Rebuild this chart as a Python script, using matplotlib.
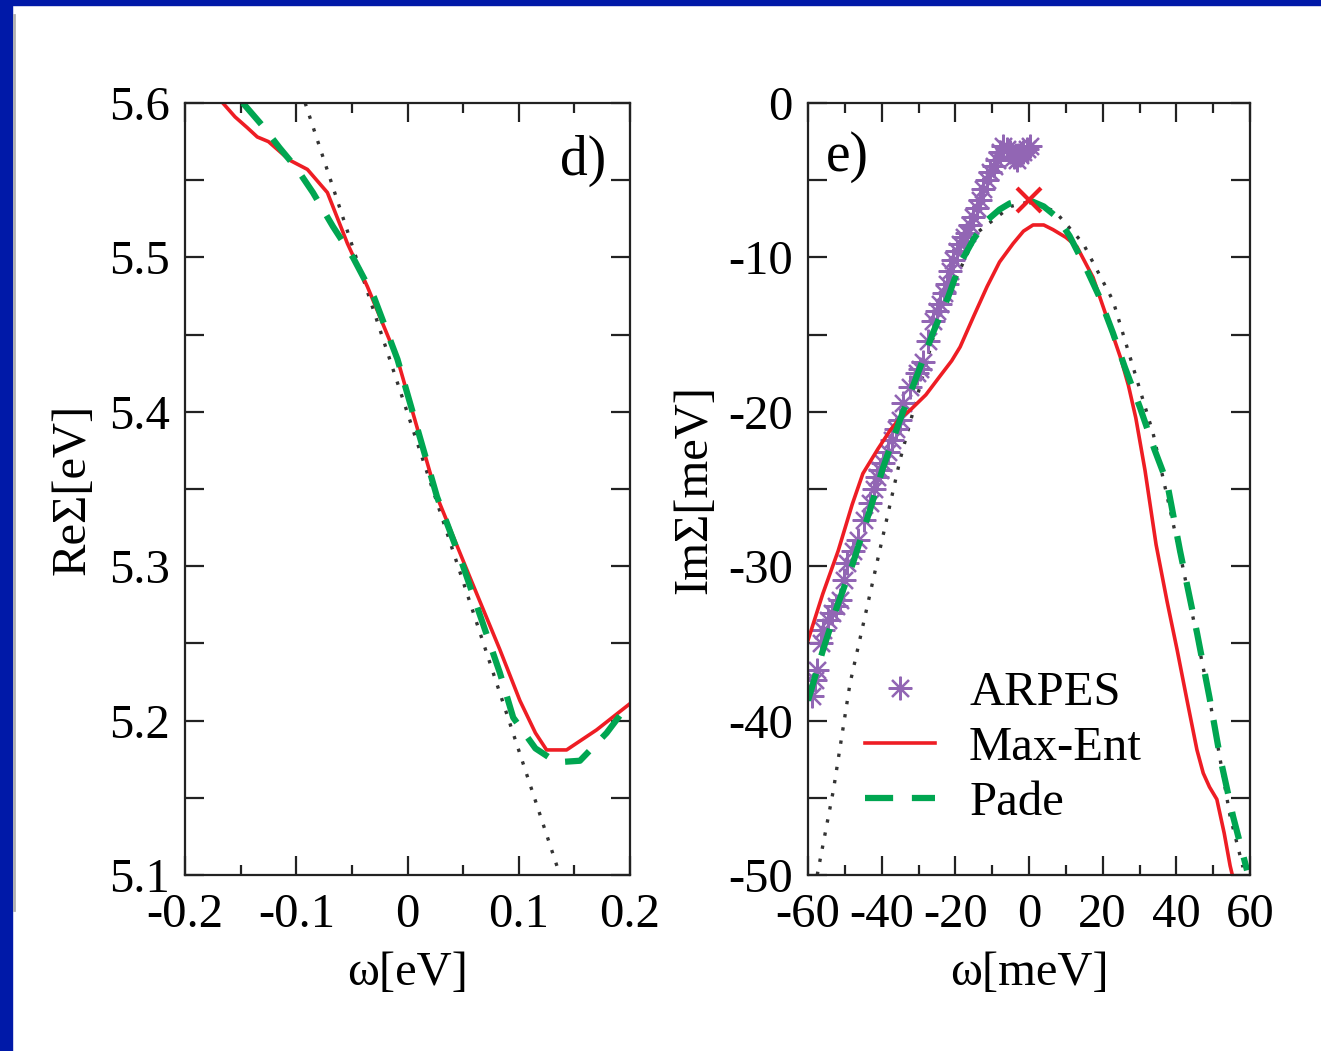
import matplotlib
matplotlib.use("Agg")
import matplotlib.pyplot as plt
from matplotlib.patches import Rectangle
from matplotlib.lines import Line2D
from matplotlib.ticker import MultipleLocator

plt.rcParams["font.family"] = ["Liberation Serif", "DejaVu Serif"]
plt.rcParams["axes.unicode_minus"] = False

# ── Data: panel d) real part ───────────────────
re_w_maxent = [-0.166, -0.155, -0.144, -0.135, -0.125, -0.106, -0.090, -0.072, -0.054,
               -0.036, -0.009, 0.0265, 0.056, 0.083, 0.101, 0.115, 0.125, 0.143, 0.170, 0.200]
re_maxent = [5.600, 5.591, 5.584, 5.578, 5.575, 5.563, 5.557, 5.542, 5.509,
             5.481, 5.434, 5.345, 5.293, 5.246, 5.213, 5.192, 5.181, 5.181, 5.194, 5.211]

re_w_pade = [-0.148, -0.130, -0.115, -0.100, -0.085, -0.067, -0.049, -0.030, -0.009,
             0.0265, 0.050, 0.083, 0.095, 0.115, 0.134, 0.155, 0.179, 0.200]
re_pade = [5.600, 5.585, 5.571, 5.558, 5.542, 5.520, 5.500, 5.474, 5.434,
           5.345, 5.300, 5.231, 5.202, 5.182, 5.173, 5.174, 5.192, 5.212]

re_w_lin = [-0.092, 0.0225, 0.137]
re_lin = [5.600, 5.350, 5.100]

# ── Data: panel e) imaginary part ──────────────
im_w_maxent = [-60, -56, -51.8, -48, -45.1, -41, -37.7, -35, -32.3, -28, -24.2, -21, -18.7,
               -15, -11.4, -8, -4.3, -1.5, 1.1, 4, 6.5, 10, 13, 17.4, 22, 25, 27, 29, 31.5,
               34.5, 37.5, 40.2, 43, 45.6, 47.3, 49, 51, 53, 54.6, 55.2]
im_maxent = [-34.8, -31.8, -29.0, -26.0, -24.0, -22.4, -21.2, -20.4, -19.9, -18.9, -17.7,
             -16.7, -15.8, -13.8, -11.9, -10.3, -9.1, -8.3, -7.9, -7.9, -8.2, -8.7, -9.3,
             -11.3, -14.5, -16.6, -18.3, -20.4, -23.8, -28.6, -32.3, -35.4, -38.8, -41.9,
             -43.4, -44.3, -45.1, -47.3, -49.4, -50.0]

im_w_pade = [-60, -55.9, -52.1, -47.8, -43.5, -39.6, -35, -30, -26.1, -22, -18.7, -15,
             -11.4, -8, -5.2, -2, 1.1, 4, 7.6, 11, 15.7, 19, 22.8, 26, 30.1, 34, 37.5,
             41, 45.6, 49, 51.9, 55.4, 59.2]
im_pade = [-38.7, -35.4, -32.6, -29.8, -26.6, -23.6, -20.5, -17.4, -14.9, -12.6, -10.4,
           -8.8, -7.6, -6.9, -6.5, -6.3, -6.4, -6.7, -7.4, -8.6, -10.8, -12.5, -14.9,
           -17.1, -19.7, -22.4, -24.6, -29.0, -34.3, -38.5, -42.4, -46.2, -49.7]

im_w_fl = [-57.5, -53.1, -48.6, -41.3, -35, -24.2, -14.1, -5, 0, 7, 14.7, 22.8, 33.7,
           41.8, 49.1, 54.6, 58.1]
im_fl = [-50.0, -44.5, -37.6, -29.8, -23.1, -13.6, -8.4, -6.7, -6.4, -7.0, -9.1, -12.8,
         -21.4, -30.1, -38.7, -46.2, -49.5]

arpes_w = [-58.8, -58.2, -57.5, -56.6, -55.9, -54.6, -53.5, -52.4, -51.3, -50.3, -49.4,
           -47.9, -46.4, -44.8, -43.2, -42.2, -41.3, -40.4, -39.6, -38.4, -37.2, -36.0,
           -35.0, -34.2, -32.4, -30.4, -29.6, -28.8, -27.4, -26.1, -25.1, -24.2, -23.2,
           -22.3, -21.4, -20.6, -19.6, -18.7, -17.7, -16.8, -16.0, -15.2, -14.2, -13.3,
           -12.5, -11.5, -10.6, -9.6, -8.7, -7.9, -7.1, -6.1, -5.2, -4.2, -3.3, -2.4,
           -1.6, -0.6, 0.3]
arpes_im = [-38.4, -37.4, -36.7, -35.0, -34.1, -33.5, -33.0, -32.6, -32.2, -30.9, -29.8,
            -29.0, -28.3, -27.0, -25.9, -25.0, -24.2, -23.8, -23.3, -22.6, -21.8, -21.1,
            -20.5, -19.4, -18.4, -17.5, -17.2, -16.8, -15.4, -14.1, -13.5, -13.0, -12.3,
            -11.7, -10.9, -10.2, -9.6, -9.1, -8.7, -8.4, -7.9, -7.4, -6.8, -6.3, -5.6,
            -5.0, -4.5, -4.1, -3.7, -3.2, -2.8, -3.0, -3.2, -3.5, -3.7, -3.4, -3.2, -3.0,
            -2.8]

x_zero = [0.0]
im_zero = [-6.3]

re_xticks = [-0.2, -0.1, 0.0, 0.1, 0.2]
re_xlabels = ["-0.2", "-0.1", "0", "0.1", "0.2"]
re_yticks = [5.1, 5.2, 5.3, 5.4, 5.5, 5.6]
re_ylabels = ["5.1", "5.2", "5.3", "5.4", "5.5", "5.6"]
im_xticks = [-60, -40, -20, 0, 20, 40, 60]
im_xlabels = ["-60", "-40", "-20", "0", "20", "40", "60"]
im_yticks = [-50, -40, -30, -20, -10, 0]
im_ylabels = ["-50", "-40", "-30", "-20", "-10", "0"]

RED = "#ee1d24"
GREEN = "#00a651"
PURPLE = "#9266b4"
DOT = "#333333"
FS = 35

# ── Figure ─────────────────────────────────────
fig = plt.figure(figsize=(13.21, 10.51), dpi=100)
fig.patch.set_facecolor("white")

# blue slide frame
fig.patches.append(Rectangle((0, 0), 12 / 1321, 1, transform=fig.transFigure,
                             color="#0019a8", zorder=0))
fig.patches.append(Rectangle((0, 1 - 5 / 1051), 1, 5 / 1051, transform=fig.transFigure,
                             color="#0019a8", zorder=0))
fig.lines.append(Line2D([13.5 / 1321, 13.5 / 1321], [1 - 910 / 1051, 1 - 15 / 1051],
                        transform=fig.transFigure, color="#b0b0b0", lw=2))

ax1 = fig.add_axes([185 / 1321, 1 - 875 / 1051, 445 / 1321, 772 / 1051])
ax2 = fig.add_axes([808 / 1321, 1 - 875 / 1051, 442 / 1321, 772 / 1051])


def style(ax):
    for s in ax.spines.values():
        s.set_linewidth(1.6)
        s.set_color("#222222")
    ax.tick_params(which="both", direction="in", top=True, right=True,
                   width=1.6, color="#222222", labelsize=FS)
    ax.tick_params(axis="x", which="both", pad=13)
    ax.tick_params(axis="y", which="both", pad=11)
    ax.tick_params(which="major", length=14)


# ── Panel d) ───────────────────────────────────
ax1.plot(re_w_lin, re_lin, color=DOT, lw=2.4, linestyle=(0, (1, 3.0)))
ax1.plot(re_w_maxent, re_maxent, color=RED, lw=2.6)
ax1.plot(re_w_pade, re_pade, color=GREEN, lw=4.5, linestyle=(0, (4.5, 3)))
ax1.set_xlim(-0.2, 0.2)
ax1.set_ylim(5.1, 5.6)
style(ax1)
ax1.set_xticks(re_xticks, re_xlabels)
ax1.set_yticks(re_yticks, re_ylabels)
ax1.xaxis.set_minor_locator(MultipleLocator(0.05))
ax1.yaxis.set_minor_locator(MultipleLocator(0.05))
ax1.tick_params(axis="x", which="minor", length=7)
ax1.tick_params(axis="y", which="minor", length=14)
ax1.set_xlabel("ω[eV]", fontsize=FS, labelpad=10)
ax1.set_ylabel("ReΣ[eV]", fontsize=FS, labelpad=10)
ax1.text(0.895, 0.925, "d)", transform=ax1.transAxes, fontsize=40,
         ha="center", va="center")

# ── Panel e) ───────────────────────────────────
ax2.plot(im_w_fl, im_fl, color=DOT, lw=2.4, linestyle=(0, (1, 3.0)))
ax2.plot(arpes_w, arpes_im, linestyle="none", marker=(8, 2, 0), markersize=17,
         markeredgewidth=1.6, color=PURPLE, label="ARPES")
ax2.plot(im_w_maxent, im_maxent, color=RED, lw=2.6, label="Max-Ent")
ax2.plot(im_w_pade, im_pade, color=GREEN, lw=4.5, linestyle=(0, (4.5, 3)), label="Pade")
ax2.plot(x_zero, im_zero, linestyle="none", marker="x", markersize=17,
         markeredgewidth=3, color=RED)
ax2.set_xlim(-60, 60)
ax2.set_ylim(-50, 0)
style(ax2)
ax2.set_xticks(im_xticks, im_xlabels)
ax2.set_yticks(im_yticks, im_ylabels)
ax2.xaxis.set_minor_locator(MultipleLocator(10))
ax2.yaxis.set_minor_locator(MultipleLocator(5))
ax2.tick_params(axis="x", which="minor", length=7)
ax2.tick_params(axis="y", which="minor", length=14)
ax2.set_xlabel("ω[meV]", fontsize=FS, labelpad=10)
ax2.set_ylabel("ImΣ[meV]", fontsize=FS, labelpad=8)
ax2.text(0.09, 0.93, "e)", transform=ax2.transAxes, fontsize=40,
         ha="center", va="center")
ax2.legend(loc="upper left", bbox_to_anchor=(0.128, 0.264), frameon=False,
           fontsize=FS, handlelength=1.45, handletextpad=0.7, labelspacing=0.22,
           borderpad=0, borderaxespad=0, numpoints=1)

fig.savefig("out.png", dpi=100)
